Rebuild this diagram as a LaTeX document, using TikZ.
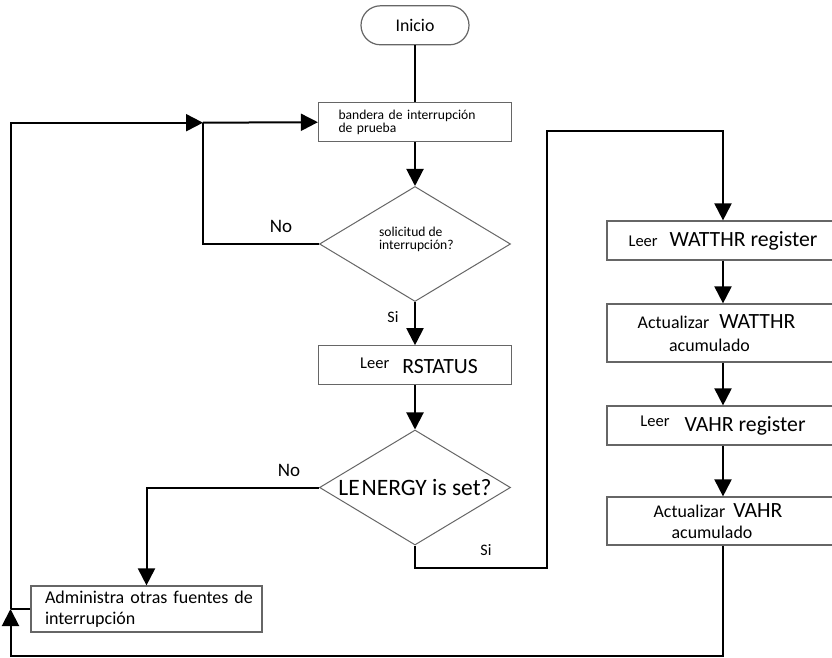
\documentclass[tikz,border=0pt]{standalone}
\usepackage{fontspec}
\setmainfont{Carlito}
\usetikzlibrary{arrows.meta,shapes.geometric}

% font sizes used in the chart
\newcommand\fInicio{\fontsize{17.8pt}{20pt}\selectfont}
\newcommand\fSmall{\fontsize{13.6pt}{13.5pt}\selectfont}
\newcommand\fNo{\fontsize{19pt}{22pt}\selectfont}
\newcommand\fSi{\fontsize{16pt}{18pt}\selectfont}
\newcommand\fLeer{\fontsize{16.5pt}{19pt}\selectfont}
\newcommand\fBig{\fontsize{21.7pt}{25pt}\selectfont}
\newcommand\fLen{\fontsize{23.5pt}{26pt}\selectfont}

\tikzset{
  flow/.style={line width=2pt, draw=black},
  arrow/.style={flow, -{Triangle[length=17pt,width=17pt]}},
  box/.style={rectangle, draw=black!60, line width=1.2pt, inner sep=0pt, fill=white},
  terminal/.style={box, rounded corners=19.5pt, minimum width=108pt, minimum height=39pt},
  decision/.style={diamond, draw=black!60, line width=1pt, inner sep=0pt,
    minimum width=191pt, minimum height=115pt},
  tag/.style={inner sep=0pt, anchor=base},
}

\begin{document}
\begin{tikzpicture}[x=1pt, y=-1pt]
  \useasboundingbox (0,0) rectangle (832,658);
  \fill[white] (0,0) rectangle (832,658);
  \clip (0,0) rectangle (832,658);

  % main column
  \node[terminal, font=\fInicio] (start) at (415,25.3) {Inicio};
  \node[box, minimum width=193pt, minimum height=39pt, text width=153pt,
        align=left, font=\fSmall] (flag) at (415,122.2)
        {bandera de interrupción\\de prueba};
  \node[decision] (d1) at (415,244) {};
  \node[inner sep=0pt, align=left, font=\fSmall] (d1t) at (416.4,239.2)
        {solicitud de\\interrupción?};
  \node[box, minimum width=193pt, minimum height=39pt] (rs) at (415,365.3)
        {\kern8pt\raisebox{5pt}{\fLeer Leer}\kern13pt{\fBig RSTATUS}};
  \node[decision] (d2) at (415,487.5) {};
  \node[inner sep=0pt, font=\fLen] (d2t) at (415,487) {LE\kern2pt NERGY is set?};
  \node[box, minimum width=231pt, minimum height=46pt, text width=203pt,
        align=left, font=\fontsize{18pt}{21pt}\selectfont] (admin) at (146.5,609)
        {\makebox[203pt][l]{Administra otras fuentes de}\\interrupción};

  % right column
  \node[box, minimum width=232pt, minimum height=39pt] (w1) at (723,240.5)
        {{\fLeer Leer}\kern12pt{\fBig WATTHR register}};
  \node[box, minimum width=232pt, minimum height=58pt, align=center,
        font=\fontsize{17.9pt}{23pt}\selectfont] (w2) at (723,333)
        {Actualizar\kern10pt{\fBig WATTHR}\kern13pt\\acumulado\kern27pt};
  \node[box, minimum width=232pt, minimum height=39pt] (w3) at (723,425.5)
        {\raisebox{4.7pt}{\fLeer Leer}\kern15pt{\fBig VAHR register}};
  \node[box, minimum width=232pt, minimum height=48pt, align=center,
        font=\fontsize{17.9pt}{21.7pt}\selectfont] (w4) at (723,521)
        {Actualizar\kern8pt{\fBig VAHR}\kern10pt\\acumulado\kern22pt};

  % routing points
  \coordinate (j1) at (203,122.7);
  \coordinate (j2) at (10.5,609);
  \coordinate (c1) at (547,568);
  \coordinate (c2) at (547,131);
  \coordinate (c3) at (723,656);
  \coordinate (c4) at (10.5,656);

  % connectors
  \draw[flow] (start) -- (flag);
  \draw[arrow] (flag) -- (d1);
  \draw[arrow] (d1) -- (rs);
  \draw[arrow] (rs) -- (d2);
  \draw[flow] (d1.west) -| (j1);
  \draw[arrow] (j1) -- (flag.west);
  \draw[arrow] (d2.west) -| (admin.north);
  \draw[arrow] (d2.south) |- (c1) -- (c2) -| (w1.north);
  \draw[arrow] (w1) -- (w2);
  \draw[arrow] (w2) -- (w3);
  \draw[arrow] (w3) -- (w4);
  \draw[arrow] (w4.south) -- (c3) -- (c4) -- (j2);
  \draw[flow] (admin.west) -- (j2);
  \draw[arrow] (j2) |- (j1);

  % branch labels
  \node[tag, font=\fNo] (no1) at (281,232.7) {No};
  \node[tag, font=\fSi] (si1) at (393,322.7) {Si};
  \node[tag, font=\fNo] (no2) at (289,476.7) {No};
  \node[tag, font=\fSi] (si2) at (486,555) {Si};
\end{tikzpicture}
\end{document}
